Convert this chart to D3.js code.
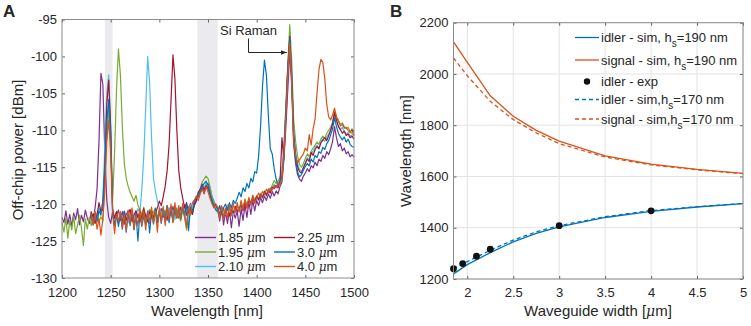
<!DOCTYPE html>
<html>
<head>
<meta charset="utf-8">
<script src="https://cdn.jsdelivr.net/npm/d3@7"></script>
<style>
  body { margin: 0; background: #fff; }
  text { font-family: "Liberation Sans", Arial, sans-serif; fill: #262626; }
</style>
</head>
<body>
<script>
// ---------- Panel A data: spectra sampled every 2 nm from 1200 nm ----------
const wlStart = 1200, wlStep = 2;
const spectraLabels = ["1.85", "1.95", "2.10", "2.25", "3.0", "4.0"];
const spectraColors = ["#7E2F8E", "#77AC30", "#4DBEEE", "#A2142F", "#0072BD", "#D95319"];

const p185 = [
  -121.8,-122.5,-120.9,-122.7,-121.4,-123.0,-121.2,-122.1,-120.6,-122.8,
  -121.5,-122.4,-120.8,-121.9,-122.6,-121.0,-122.3,-120.5,-118.0,-111.5,
  -102.3,-103.8,-113.0,-119.5,-121.8,-122.6,-121.0,-122.9,-121.5,-120.8,
  -122.2,-121.0,-122.7,-121.4,-120.9,-122.5,-121.7,-122.9,-121.1,-121.8,
  -122.4,-121.2,-120.8,-122.0,-121.5,-122.6,-121.0,-121.9,-120.7,-122.1,
  -121.3,-120.6,-121.8,-120.9,-122.2,-120.5,-121.4,-120.3,-121.6,-120.8,
  -121.9,-120.4,-121.2,-120.1,-121.5,-120.7,-119.9,-121.0,-120.2,-119.6,
  -119.0,-118.4,-117.8,-118.6,-117.5,-117.2,-117.9,-119.0,-119.6,-120.3,
  -120.6,-122.3,-120.4,-122.8,-121.0,-122.6,-120.7,-123.2,-121.0,-121.9,
  -121.0,-123.0,-120.6,-122.2,-120.1,-121.8,-119.7,-121.4,-119.5,-120.9,
  -119.5,-120.2,-119.1,-119.8,-118.9,-119.5,-118.6,-119.2,-118.3,-118.9,
  -118.2,-118.6,-117.6,-117.0,-114.0,-109.5,-104.5,-99.2,-104.0,-112.0,
  -114.5,-116.0,-116.6,-116.9,-116.2,-115.8,-115.2,-115.6,-114.8,-115.1,
  -114.3,-114.8,-113.9,-114.2,-113.4,-113.8,-112.9,-113.3,-112.5,-111.5,
  -109.5,-111.0,-112.2,-111.8,-112.8,-112.4,-113.2,-112.9,-113.6,-113.3,
  -113.6
];
const p195 = [
  -122.5,-123.8,-121.9,-124.6,-122.2,-123.5,-121.6,-124.0,-122.8,-121.5,
  -123.2,-125.6,-122.0,-123.4,-121.8,-122.9,-121.4,-122.6,-121.2,-122.4,
  -121.7,-122.3,-117.0,-110.5,-107.2,-113.5,-119.5,-113.0,-104.5,-99.0,
  -102.5,-109.5,-114.5,-116.5,-117.6,-118.4,-119.0,-119.6,-118.8,-120.1,
  -120.8,-121.6,-120.4,-122.1,-121.3,-120.7,-122.0,-121.1,-120.5,-121.8,
  -121.0,-122.2,-120.6,-121.4,-120.2,-121.7,-120.9,-122.0,-121.2,-120.5,
  -121.5,-122.3,-120.8,-121.9,-123.5,-121.2,-120.6,-121.4,-119.8,-119.2,
  -118.5,-117.9,-117.0,-116.6,-116.2,-116.5,-117.6,-118.9,-119.7,-120.2,
  -120.9,-120.3,-121.4,-120.6,-121.2,-120.1,-121.0,-120.4,-121.3,-120.5,
  -120.1,-120.8,-119.7,-120.4,-119.5,-120.0,-119.2,-119.8,-118.8,-119.4,
  -118.9,-119.3,-118.5,-119.0,-118.2,-118.7,-117.9,-118.3,-117.4,-116.8,
  -117.2,-116.9,-116.4,-115.6,-112.5,-107.0,-101.0,-95.7,-100.5,-108.5,
  -111.5,-113.5,-114.6,-115.0,-114.5,-113.8,-113.2,-113.6,-112.8,-112.4,
  -112.0,-111.6,-111.9,-111.2,-110.8,-111.1,-110.4,-110.0,-109.6,-108.9,
  -107.3,-108.2,-108.6,-109.2,-109.0,-109.5,-109.8,-109.6,-110.2,-110.4,
  -110.0
];
const p210 = [
  null,null,null,null,null,null,null,null,null,null,
  null,null,null,null,null,-121.5,-122.3,-121.0,-121.8,-120.5,
  -121.2,-119.5,-112.0,-105.0,-102.5,-110.0,-120.5,-122.0,-121.1,-122.6,
  -121.4,-122.2,-120.9,-121.8,-122.5,-121.3,-120.8,-122.0,-121.5,-120.6,
  -121.2,-118.0,-113.5,-107.0,-100.0,-103.5,-111.0,-116.5,-118.2,-119.6,
  -120.4,-121.3,-120.7,-122.0,-121.2,-120.6,-121.6,-120.9,-122.1,-121.0,
  -120.5,-121.4,-120.2,-121.0,-122.6,-120.8,-120.1,-121.2,-119.6,-119.0,
  -118.6,-118.0,-117.4,-117.8,-117.1,-117.6,-118.4,-119.3,-120.0,-120.6,
  -121.2,-120.5,-121.6,-120.8,-121.4,-120.3,-121.1,-120.6,-121.5,-120.9,
  -120.4,-121.0,-120.0,-120.7,-119.6,-120.2,-119.4,-120.0,-119.0,-119.6,
  -119.1,-119.5,-118.6,-119.2,-118.4,-118.9,-118.0,-118.5,-117.8,-117.3,
  -117.6,-117.2,-116.7,-115.8,-112.0,-106.5,-101.5,-97.8,-101.8,-110.0,
  -112.8,-114.5,-115.3,-115.6,-115.0,-114.4,-113.7,-114.0,-113.2,-112.8,
  -112.3,-112.0,-112.4,-111.6,-111.2,-111.5,-110.9,-110.5,-110.0,-109.2,
  -108.0,-108.8,-109.4,-109.9,-109.6,-110.2,-110.5,-110.3,-110.8,-110.6,
  -110.5
];
const p225 = [
  null,null,null,null,null,null,null,null,null,null,
  null,null,null,null,null,-122.0,-121.3,-122.6,-121.5,-119.8,
  -121.0,-120.8,-115.5,-106.5,-103.2,-109.5,-120.8,-121.9,-121.0,-122.4,
  -121.6,-122.5,-121.0,-122.2,-121.4,-120.7,-122.3,-121.5,-120.9,-121.8,
  -121.0,-122.1,-120.6,-121.6,-122.4,-121.1,-120.8,-121.9,-121.2,-120.5,
  -119.6,-120.2,-119.0,-117.6,-115.5,-112.0,-106.0,-99.8,-103.0,-110.0,
  -115.5,-117.8,-119.2,-120.5,-119.8,-121.2,-120.6,-121.4,-120.0,-119.5,
  -118.4,-118.0,-117.3,-118.1,-117.5,-117.9,-118.7,-119.6,-120.3,-120.0,
  -120.7,-121.3,-120.4,-121.8,-121.0,-120.5,-121.6,-120.8,-121.2,-120.3,
  -121.0,-120.5,-120.2,-120.9,-119.9,-120.4,-119.5,-119.9,-119.2,-119.7,
  -118.9,-119.4,-118.7,-119.1,-118.3,-118.8,-118.1,-118.5,-117.7,-117.9,
  -117.5,-117.8,-116.9,-111.0,-114.0,-107.5,-101.5,-97.3,-103.0,-110.5,
  -113.5,-114.9,-115.6,-115.8,-115.1,-114.5,-113.9,-114.2,-113.0,-113.4,
  -112.6,-112.2,-112.5,-111.7,-111.3,-111.0,-111.4,-110.7,-110.0,-109.1,
  -107.6,-108.6,-109.5,-109.9,-110.4,-110.1,-110.7,-110.5,-111.0,-110.8,
  -111.2
];
const p300 = [
  null,null,null,null,null,null,null,null,null,null,
  null,null,null,null,null,-121.8,-122.8,-121.2,-122.4,-120.9,
  -121.5,-119.5,-114.5,-109.0,-105.8,-110.5,-121.5,-122.8,-121.4,-123.0,
  -121.4,-123.4,-121.0,-123.8,-121.2,-122.9,-120.8,-123.5,-121.3,-125.0,
  -121.2,-123.0,-121.6,-122.8,-120.9,-123.9,-121.1,-122.7,-120.6,-122.5,
  -120.8,-122.6,-120.5,-122.3,-120.2,-122.5,-120.7,-122.4,-120.3,-121.9,
  -120.5,-122.0,-120.2,-121.6,-120.0,-123.6,-120.4,-121.0,-119.5,-119.2,
  -118.7,-118.2,-117.6,-117.2,-116.9,-117.4,-118.5,-119.4,-120.2,-120.8,
  -121.0,-120.2,-121.4,-120.5,-120.0,-120.8,-119.8,-120.5,-119.5,-119.9,
  -119.2,-118.4,-119.0,-117.8,-118.3,-117.2,-117.8,-116.5,-117.0,-115.6,
  -115.8,-113.5,-109.5,-104.0,-100.5,-102.5,-108.0,-112.5,-113.2,-115.2,
  -116.6,-117.5,-117.0,-116.2,-113.0,-107.8,-102.0,-97.6,-102.5,-111.0,
  -114.0,-115.6,-116.3,-116.0,-115.4,-114.9,-114.5,-114.8,-113.9,-114.3,
  -113.4,-113.7,-112.9,-113.1,-112.3,-112.6,-111.8,-111.4,-110.6,-109.8,
  -108.3,-109.5,-110.4,-110.9,-111.3,-110.9,-111.6,-111.2,-111.9,-112.2,
  -112.3
];
const p400 = [
  null,null,null,null,null,null,null,null,null,null,
  null,null,null,null,null,-121.3,-122.8,-121.0,-123.4,-122.0,
  -124.2,-122.0,-118.0,-111.5,-108.7,-112.5,-121.0,-124.0,-121.4,-122.3,
  -121.0,-123.2,-121.4,-123.6,-120.8,-122.6,-120.5,-123.4,-121.5,-122.9,
  -120.6,-122.8,-120.9,-123.5,-121.0,-122.4,-120.4,-122.6,-120.9,-123.8,
  -120.5,-122.4,-120.3,-122.9,-120.4,-122.1,-120.0,-122.5,-119.8,-121.9,
  -120.2,-122.0,-119.9,-121.6,-123.2,-120.3,-121.5,-119.8,-119.4,-118.9,
  -119.5,-118.6,-118.0,-118.5,-117.7,-118.3,-119.2,-119.9,-120.5,-120.1,
  -120.4,-121.9,-120.2,-122.0,-120.5,-121.8,-120.1,-121.6,-119.9,-121.2,
  -119.8,-121.1,-119.5,-120.8,-119.3,-120.6,-119.1,-120.2,-118.8,-119.9,
  -119.2,-118.5,-119.0,-118.3,-118.7,-118.0,-118.4,-117.8,-118.1,-117.5,
  -117.8,-117.1,-117.4,-116.6,-113.5,-108.0,-102.5,-98.2,-103.5,-111.5,
  -113.5,-114.4,-114.0,-113.6,-113.2,-112.4,-112.8,-110.6,-112.0,-109.8,
  -108.5,-105.0,-101.8,-100.4,-100.8,-103.0,-106.5,-108.2,-108.6,-107.9,
  -107.0,-108.2,-108.8,-109.4,-109.2,-109.7,-109.6,-110.0,-110.3,-109.8,
  -110.8
];
const spectra = [p185, p195, p210, p225, p300, p400];
const greyBands = [[1244, 1252], [1339, 1360]];
const xTicksA = [1200, 1250, 1300, 1350, 1400, 1450, 1500];
const yTicksA = [-130, -125, -120, -115, -110, -105, -100, -95];

// ---------- Panel B data ----------
const widthsSim = [1.85, 2.0, 2.25, 2.5, 2.75, 3.0, 3.5, 4.0, 4.5, 5.0];
const idlerSim190 = [1220, 1256, 1303, 1345, 1378, 1403, 1440, 1464, 1481, 1494];
const signalSim190 = [2125, 2045, 1915, 1835, 1780, 1738, 1680, 1648, 1628, 1612];
const idlerSim170 = [1240, 1268, 1312, 1352, 1384, 1408, 1443, 1467, 1482, 1495];
const signalSim170 = [2063, 1993, 1893, 1822, 1770, 1728, 1676, 1645, 1626, 1611];
const widthsExp = [1.85, 1.95, 2.10, 2.25, 3.0, 4.0];
const idlerExp = [1240, 1260, 1289, 1316, 1408, 1466];
const xTicksB = [2, 2.5, 3, 3.5, 4, 4.5, 5];
const yTicksB = [1200, 1400, 1600, 1800, 2000, 2200];

const blue = "#0072BD", orange = "#D95319";

const svg = d3.select(document.body).append("svg")
  .attr("width", 751).attr("height", 326);

// plain number labels with a hyphen minus, like the original
const plain = d => String(d);

function styleAxis(g) {
  g.select(".domain").remove();
  g.selectAll("line").attr("stroke", "#262626").attr("stroke-width", 0.7);
  g.selectAll("text").attr("font-size", 13).attr("fill", "#262626")
    .attr("font-family", "Liberation Sans, Arial, sans-serif");
}

// ================= Panel A =================
const xA = d3.scaleLinear().domain([1200, 1500]).range([62, 354]);
const yA = d3.scaleLinear().domain([-130, -95]).range([278, 19.5]);
const gA = svg.append("g");

gA.selectAll(".band").data(greyBands).enter().append("rect")
  .attr("x", d => xA(d[0])).attr("width", d => xA(d[1]) - xA(d[0]))
  .attr("y", yA(-95)).attr("height", yA(-130) - yA(-95))
  .attr("fill", "#ebebef");

const lineA = d3.line()
  .defined(d => d[1] != null)
  .x(d => xA(d[0])).y(d => yA(d[1]));

spectra.forEach((s, k) => {
  gA.append("path")
    .datum(s.map((v, i) => [wlStart + wlStep * i, v]))
    .attr("d", lineA)
    .attr("fill", "none")
    .attr("stroke", spectraColors[k])
    .attr("stroke-width", 1.2)
    .attr("stroke-linejoin", "round");
});

gA.append("g").attr("transform", `translate(0,${yA(-130)})`)
  .call(d3.axisBottom(xA).tickValues(xTicksA).tickFormat(plain).tickSizeInner(-3).tickSizeOuter(0).tickPadding(10))
  .call(styleAxis);
gA.append("g").attr("transform", `translate(0,${yA(-95)})`)
  .call(d3.axisTop(xA).tickValues(xTicksA).tickSizeInner(-3).tickSizeOuter(0).tickFormat(""))
  .call(styleAxis);
gA.append("g").attr("transform", `translate(${xA(1200)},0)`)
  .call(d3.axisLeft(yA).tickValues(yTicksA).tickFormat(plain).tickSizeInner(-3).tickSizeOuter(0).tickPadding(5))
  .call(styleAxis);
gA.append("g").attr("transform", `translate(${xA(1500)},0)`)
  .call(d3.axisRight(yA).tickValues(yTicksA).tickSizeInner(-3).tickSizeOuter(0).tickFormat(""))
  .call(styleAxis);

gA.append("rect")
  .attr("x", xA(1200)).attr("y", yA(-95))
  .attr("width", xA(1500) - xA(1200)).attr("height", yA(-130) - yA(-95))
  .attr("fill", "none").attr("stroke", "#8c8c8c").attr("stroke-width", 1);

// Si Raman annotation
gA.append("text").attr("x", 220).attr("y", 35).attr("font-size", 13).text("Si Raman");
svg.append("defs").append("marker")
  .attr("id", "arr").attr("viewBox", "0 0 10 10").attr("refX", 10).attr("refY", 5)
  .attr("markerWidth", 6).attr("markerHeight", 6).attr("orient", "auto")
  .append("path").attr("d", "M0,1L10,5L0,9Z").attr("fill", "#262626");
gA.append("path")
  .attr("d", `M248.5,38.5V52.5H${xA(1431)}`)
  .attr("fill", "none").attr("stroke", "#262626").attr("stroke-width", 1)
  .attr("marker-end", "url(#arr)");

// legend A (two columns, three rows)
const legA = gA.append("g");
spectraLabels.forEach((lab, k) => {
  const col = k < 3 ? 0 : 1, row = k % 3;
  const lx = col === 0 ? 195 : 274;
  const ly = [237.5, 252, 266.5][row];
  legA.append("line").attr("x1", lx).attr("x2", lx + 21).attr("y1", ly).attr("y2", ly)
    .attr("stroke", spectraColors[k]).attr("stroke-width", 1.4);
  const t = legA.append("text").attr("x", lx + 23).attr("y", ly + 4.5).attr("font-size", 13);
  t.append("tspan").text(lab + " ");
  t.append("tspan").attr("font-style", "italic").attr("font-family", "DejaVu Serif, serif").attr("font-size", 12).text("μ");
  t.append("tspan").text("m");
});

gA.append("text").attr("x", 207).attr("y", 316).attr("text-anchor", "middle")
  .attr("font-size", 15).text("Wavelength [nm]");
gA.append("text").attr("transform", "translate(23,150) rotate(-90)").attr("text-anchor", "middle")
  .attr("font-size", 15).text("Off-chip power [dBm]");
svg.append("text").attr("x", 3).attr("y", 17).attr("font-size", 17).attr("font-weight", "bold").text("A");

// ================= Panel B =================
const xB = d3.scaleLinear().domain([1.85, 5]).range([453.5, 743]);
const yB = d3.scaleLinear().domain([1200, 2200]).range([279, 22.7]);
const gB = svg.append("g");

gB.selectAll(".gx").data(xTicksB).enter().append("line")
  .attr("x1", d => xB(d)).attr("x2", d => xB(d)).attr("y1", yB(1200)).attr("y2", yB(2200))
  .attr("stroke", "#e3e3e3").attr("stroke-width", 1);
gB.selectAll(".gy").data(yTicksB).enter().append("line")
  .attr("x1", xB(1.85)).attr("x2", xB(5)).attr("y1", d => yB(d)).attr("y2", d => yB(d))
  .attr("stroke", "#e3e3e3").attr("stroke-width", 1);

gB.append("g").attr("transform", `translate(0,${yB(1200)})`)
  .call(d3.axisBottom(xB).tickValues(xTicksB).tickFormat(plain).tickSizeInner(-3).tickSizeOuter(0).tickPadding(9))
  .call(styleAxis);
gB.append("g").attr("transform", `translate(0,${yB(2200)})`)
  .call(d3.axisTop(xB).tickValues(xTicksB).tickFormat("").tickSizeInner(-3).tickSizeOuter(0))
  .call(styleAxis);
gB.append("g").attr("transform", `translate(${xB(1.85)},0)`)
  .call(d3.axisLeft(yB).tickValues(yTicksB).tickFormat(plain).tickSizeInner(-3).tickSizeOuter(0).tickPadding(5))
  .call(styleAxis);
gB.append("g").attr("transform", `translate(${xB(5)},0)`)
  .call(d3.axisRight(yB).tickValues(yTicksB).tickFormat("").tickSizeInner(-3).tickSizeOuter(0))
  .call(styleAxis);

const lineB = d3.line().x(d => xB(d[0])).y(d => yB(d[1]));
const simSeries = [
  { vals: idlerSim170, color: blue, dash: "4,3" },
  { vals: signalSim170, color: orange, dash: "4,3" },
  { vals: idlerSim190, color: blue, dash: null },
  { vals: signalSim190, color: orange, dash: null }
];
simSeries.forEach(s => {
  gB.append("path")
    .datum(widthsSim.map((w, i) => [w, s.vals[i]]))
    .attr("d", lineB).attr("fill", "none")
    .attr("stroke", s.color).attr("stroke-width", 1.3)
    .attr("stroke-dasharray", s.dash);
});

gB.selectAll(".dot").data(widthsExp.map((w, i) => [w, idlerExp[i]])).enter().append("circle")
  .attr("cx", d => xB(d[0])).attr("cy", d => yB(d[1])).attr("r", 3.4)
  .attr("fill", "#111");

gB.append("rect")
  .attr("x", xB(1.85)).attr("y", yB(2200))
  .attr("width", xB(5) - xB(1.85)).attr("height", yB(1200) - yB(2200))
  .attr("fill", "none").attr("stroke", "#8c8c8c").attr("stroke-width", 1);

// legend B
const legB = [
  { pre: "idler - sim, h", post: "=190 nm", color: blue, dash: null, y: 37.5 },
  { pre: "signal - sim, h", post: "=190 nm", color: orange, dash: null, y: 60 },
  { pre: "idler - exp", post: null, color: null, dash: null, y: 81.5 },
  { pre: "idler - sim,h", post: "=170 nm", color: blue, dash: "4,3", y: 99.5 },
  { pre: "signal - sim,h", post: "=170 nm", color: orange, dash: "4,3", y: 119 }
];
legB.forEach(d => {
  if (d.color) {
    gB.append("line").attr("x1", 575).attr("x2", 599).attr("y1", d.y).attr("y2", d.y)
      .attr("stroke", d.color).attr("stroke-width", 1.3).attr("stroke-dasharray", d.dash);
  } else {
    gB.append("circle").attr("cx", 587).attr("cy", d.y).attr("r", 3.2).attr("fill", "#111");
  }
  const t = gB.append("text").attr("x", 601).attr("y", d.y + 4.5).attr("font-size", 13);
  t.append("tspan").text(d.pre);
  if (d.post) {
    t.append("tspan").attr("dy", 5).attr("font-size", 10).text("s");
    t.append("tspan").attr("dy", -5).text(d.post);
  }
});

gB.append("text").attr("x", 598).attr("y", 316).attr("text-anchor", "middle").attr("font-size", 15)
  .call(t => {
    t.append("tspan").text("Waveguide width [");
    t.append("tspan").attr("font-style", "italic").attr("font-family", "DejaVu Serif, serif").attr("font-size", 14).text("μ");
    t.append("tspan").text("m]");
  });
gB.append("text").attr("transform", "translate(411,151) rotate(-90)").attr("text-anchor", "middle")
  .attr("font-size", 15).text("Wavelength [nm]");
svg.append("text").attr("x", 390).attr("y", 17).attr("font-size", 17).attr("font-weight", "bold").text("B");
</script>
</body>
</html>
